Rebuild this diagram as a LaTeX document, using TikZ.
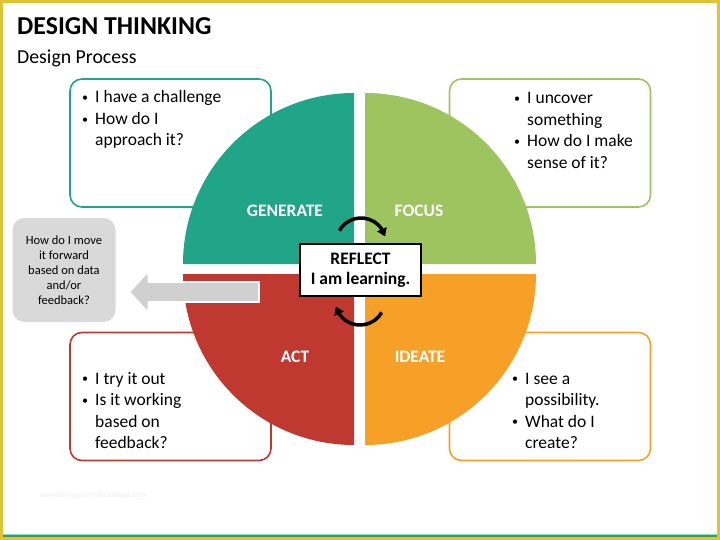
\documentclass[tikz,border=0pt]{standalone}
\usepackage{fontspec}
\setmainfont{Carlito}
\usetikzlibrary{arrows.meta,bending,positioning}
\definecolor{genc}{RGB}{33,165,137}
\definecolor{focc}{RGB}{158,196,96}
\definecolor{actc}{RGB}{192,57,48}
\definecolor{idec}{RGB}{247,160,40}
\definecolor{askgray}{RGB}{217,217,217}
\definecolor{arrgray}{RGB}{208,208,208}
\definecolor{framey}{RGB}{222,195,50}
\definecolor{stripg}{RGB}{72,150,88}
\definecolor{stripl}{RGB}{130,222,200}
\newcommand{\bpt}{\makebox[13pt][l]{\raisebox{1.3pt}{\fontsize{12}{12}\selectfont\textbullet}}}
\newcommand{\bgap}{\hspace*{13pt}}

\begin{document}
\begin{tikzpicture}[
  x=1pt, y=-1pt,
  qbox/.style={draw=#1, line width=1.6pt, rounded corners=12pt, fill=white, minimum width=201pt, minimum height=128pt, inner sep=0pt},
  btxt/.style={anchor=base west, align=left, inner sep=0pt, font=\fontsize{17.5}{21.5}\selectfont},
  qlbl/.style={text=white, inner sep=0pt, font=\bfseries\fontsize{17.5}{20}\selectfont},
  askbox/.style={fill=askgray, rounded corners=12pt, minimum width=103pt, minimum height=104pt, align=center, inner sep=2pt, font=\fontsize{12.5}{15}\selectfont},
  reflbox/.style={draw=black, line width=1.5pt, fill=white, minimum width=121pt, minimum height=52pt, align=center, inner sep=0pt, font=\bfseries\fontsize{17.5}{20.5}\selectfont},
  cyc/.style={line width=3.5pt, -{Triangle[length=8pt,width=10pt]}}
]
% frame
\fill[framey] (0,0) rectangle (720,540);
\fill[white] (3,3) rectangle (717,537);
\fill[stripg] (3,534) rectangle (717,537);
\fill[stripl] (3,533.5) rectangle (717,534.8);

\node[anchor=base west, inner sep=0pt, font=\bfseries\fontsize{25.8}{30}\selectfont] (title) at (17,35) {DESIGN THINKING};
\node[anchor=base west, inner sep=0pt, font=\fontsize{19.8}{23}\selectfont] (subtitle) at (17,64) {Design Process};

\node[qbox=genc] (tlbox) at (170.5,143) {};
\node[qbox=focc] (trbox) at (550,143) {};
\node[qbox=actc] (blbox) at (170.5,396.5) {};
\node[qbox=idec] (brbox) at (550,396.5) {};

% base = last line
\node[btxt] (tltxt) at (82,146) {\bpt I have a challenge\\\bpt How do I\\\bgap approach it?};
\node[btxt] (trtxt) at (514,168.5) {\bpt I uncover\\\bgap something\\\bpt How do I make\\\bgap sense of it?};
\node[btxt] (bltxt) at (82,448.5) {\bpt I try it out\\\bpt Is it working\\\bgap based on\\\bgap feedback?};
\node[btxt] (brtxt) at (512,448.5) {\bpt I see a\\\bgap possibility.\\\bpt What do I\\\bgap create?};

% quadrants
\fill[genc] (354,264) -- ++(-171,0) arc[start angle=180, end angle=270, radius=171] -- cycle;
\fill[focc] (365,264) -- ++(0,-171) arc[start angle=270, end angle=360, radius=171] -- cycle;
\fill[actc] (354,274) -- ++(-171,0) arc[start angle=180, end angle=90, radius=171] -- cycle;
\fill[idec] (365,274) -- ++(171,0) arc[start angle=0, end angle=90, radius=171] -- cycle;

\node[qlbl] (gen) at (285,211) {GENERATE};
\node[qlbl] (foc) at (419,211) {FOCUS};
\node[qlbl] (act) at (295,357) {ACT};
\node[qlbl] (ide) at (420,357) {IDEATE};

\node[askbox] (ask) at (64,270) {How do I move\\it forward\\based on data\\and/or\\feedback?};

\coordinate (arrw) at (260,292);
\coordinate (arrs) at (258,292);
\draw[white, line width=22pt, -{Triangle[length=19pt,width=41pt]}, shorten >=13pt] (arrw) -- (ask.east |- arrw);
\draw[arrgray, line width=18pt, -{Triangle[length=17pt,width=36pt]}, shorten >=15pt] (arrs) -- (ask.east |- arrs);

\node[reflbox] (reflect) at (360.5,270) {REFLECT\\I am learning.};

\coordinate (topc) at (361,243);
\coordinate (botc) at (360,300);
\draw[cyc] ([shift={(-150:25)}]topc) arc[start angle=-150, end angle=-15, radius=25];
\draw[cyc] ([shift={(30:25)}]botc) arc[start angle=30, end angle=165, radius=25];

\node[anchor=base west, inner sep=0pt, text=black!7, font=\fontsize{7.5}{9}\selectfont] (wmark) at (40,497) {www.heritagechristiancollege.com};
\end{tikzpicture}
\end{document}
